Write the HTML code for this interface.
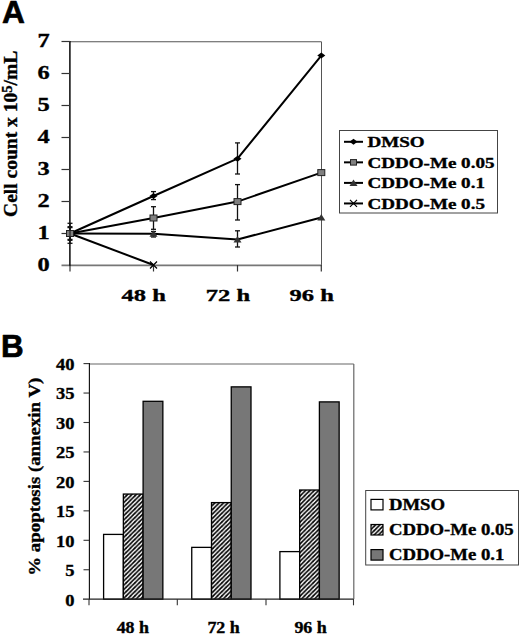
<!DOCTYPE html>
<html><head><meta charset="utf-8">
<style>
html,body{margin:0;padding:0;background:#fff;}
body{width:520px;height:636px;overflow:hidden;position:relative;}
svg{position:absolute;left:0;top:0;}
.s{font-family:"Liberation Serif",serif;font-weight:bold;fill:#000;stroke:#000;stroke-width:0.35px;}
.p{font-family:"Liberation Sans",sans-serif;font-weight:bold;fill:#000;stroke:#000;stroke-width:0.7px;stroke-linejoin:round;}
</style></head><body>
<svg width="520" height="636" viewBox="0 0 520 636">
<defs>
<pattern id="hatch" patternUnits="userSpaceOnUse" width="4.35" height="4.35">
<rect width="4.35" height="4.35" fill="#fff"/>
<path d="M-1,1.0875 L1.0875,-1 M0,4.35 L4.35,0 M3.2625,5.35 L5.35,3.2625" stroke="#000" stroke-width="1.6"/>
</pattern>
</defs>

<text class="p" font-size="31.7" text-anchor="start" transform="translate(1.90,23.40) scale(1.0,1)">A</text>
<line x1="70" y1="41.8" x2="321.5" y2="41.8" stroke="#555" stroke-width="1.1"/>
<line x1="321.5" y1="41.8" x2="321.5" y2="265.5" stroke="#555" stroke-width="1"/>
<line x1="61.5" y1="265.3" x2="321.5" y2="265.3" stroke="#777" stroke-width="1.8"/>
<line x1="69.9" y1="41" x2="69.9" y2="266" stroke="#000" stroke-width="1.45"/>
<g stroke="#333" stroke-width="1.2">
<line x1="61.5" y1="233.5" x2="70" y2="233.5"/>
<line x1="61.5" y1="201.5" x2="70" y2="201.5"/>
<line x1="61.5" y1="169.5" x2="70" y2="169.5"/>
<line x1="61.5" y1="137.5" x2="70" y2="137.5"/>
<line x1="61.5" y1="105.5" x2="70" y2="105.5"/>
<line x1="61.5" y1="73.5" x2="70" y2="73.5"/>
<line x1="61.5" y1="41.5" x2="70" y2="41.5"/>
<line x1="70" y1="265" x2="70" y2="271.5"/>
<line x1="153.5" y1="265" x2="153.5" y2="271.5"/>
<line x1="237.5" y1="265" x2="237.5" y2="271.5"/>
<line x1="321.3" y1="265" x2="321.3" y2="271.5"/>
</g>
<text class="s" font-size="19.2" text-anchor="end" transform="translate(49.80,271.30) scale(1.27,1)">0</text>
<text class="s" font-size="19.2" text-anchor="end" transform="translate(49.80,239.30) scale(1.27,1)">1</text>
<text class="s" font-size="19.2" text-anchor="end" transform="translate(49.80,207.30) scale(1.27,1)">2</text>
<text class="s" font-size="19.2" text-anchor="end" transform="translate(49.80,175.30) scale(1.27,1)">3</text>
<text class="s" font-size="19.2" text-anchor="end" transform="translate(49.80,143.30) scale(1.27,1)">4</text>
<text class="s" font-size="19.2" text-anchor="end" transform="translate(49.80,111.30) scale(1.27,1)">5</text>
<text class="s" font-size="19.2" text-anchor="end" transform="translate(49.80,79.30) scale(1.27,1)">6</text>
<text class="s" font-size="19.2" text-anchor="end" transform="translate(49.80,47.30) scale(1.27,1)">7</text>
<text class="s" font-size="17.4" text-anchor="middle" transform="translate(143.70,300.80) scale(1.41,1)">48 h</text>
<text class="s" font-size="17.4" text-anchor="middle" transform="translate(228.00,300.80) scale(1.41,1)">72 h</text>
<text class="s" font-size="17.4" text-anchor="middle" transform="translate(311.70,300.80) scale(1.41,1)">96 h</text>
<text class="s" font-size="18.5" transform="translate(17.1,216.9) rotate(-90) scale(1.055,1)">Cell count x 10<tspan font-size="14" dy="-4.7">5</tspan><tspan dy="4.7">/mL</tspan></text>
<g stroke="#111" stroke-width="1.3">
<line x1="70" y1="223.3" x2="70" y2="243.3"/><line x1="67.5" y1="223.3" x2="72.5" y2="223.3"/><line x1="67.5" y1="243.3" x2="72.5" y2="243.3"/>
<line x1="70" y1="226.7" x2="70" y2="240.3"/><line x1="67.5" y1="226.7" x2="72.5" y2="226.7"/><line x1="67.5" y1="240.3" x2="72.5" y2="240.3"/>
<line x1="70" y1="227.6" x2="70" y2="239.4"/><line x1="67.5" y1="227.6" x2="72.5" y2="227.6"/><line x1="67.5" y1="239.4" x2="72.5" y2="239.4"/>
<line x1="153.5" y1="191.6" x2="153.5" y2="199.6"/><line x1="151.0" y1="191.6" x2="156.0" y2="191.6"/><line x1="151.0" y1="199.6" x2="156.0" y2="199.6"/>
<line x1="153.5" y1="206.7" x2="153.5" y2="229.3"/><line x1="151.0" y1="206.7" x2="156.0" y2="206.7"/><line x1="151.0" y1="229.3" x2="156.0" y2="229.3"/>
<line x1="153.5" y1="231.5" x2="153.5" y2="237"/><line x1="151.0" y1="231.5" x2="156.0" y2="231.5"/><line x1="151.0" y1="237" x2="156.0" y2="237"/>
<line x1="237.5" y1="142.9" x2="237.5" y2="174"/><line x1="235.0" y1="142.9" x2="240.0" y2="142.9"/><line x1="235.0" y1="174" x2="240.0" y2="174"/>
<line x1="237.5" y1="184.6" x2="237.5" y2="220"/><line x1="235.0" y1="184.6" x2="240.0" y2="184.6"/><line x1="235.0" y1="220" x2="240.0" y2="220"/>
<line x1="237.5" y1="230.8" x2="237.5" y2="247"/><line x1="235.0" y1="230.8" x2="240.0" y2="230.8"/><line x1="235.0" y1="247" x2="240.0" y2="247"/>
</g>
<g fill="none" stroke="#000" stroke-width="2" stroke-linejoin="round">
<polyline points="70,233.5 153.5,196 237.5,158.7 321.3,55.6"/>
<polyline points="70,233.5 153.5,218 237.5,201.6 321.3,172.6"/>
<polyline points="70,233.5 153.5,233.8 237.5,239.5 321.3,217.5"/>
<polyline points="70,233.5 153.5,265"/>
</g>
<path d="M66,233.5 L70,230.5 L74,233.5 L70,236.5Z" fill="#000"/>
<path d="M149.5,196 L153.5,193 L157.5,196 L153.5,199Z" fill="#000"/>
<path d="M233.5,158.7 L237.5,155.7 L241.5,158.7 L237.5,161.7Z" fill="#000"/>
<path d="M317.3,55.6 L321.3,52.6 L325.3,55.6 L321.3,58.6Z" fill="#000"/>
<path d="M149.5,236.8 L153.5,230.3 L157.5,236.8Z" fill="#333"/>
<path d="M233.5,242.5 L237.5,236.0 L241.5,242.5Z" fill="#333"/>
<path d="M317.3,220.5 L321.3,214.0 L325.3,220.5Z" fill="#333"/>
<path d="M150.0,261.5 L157.0,268.5 M157.0,261.5 L150.0,268.5" stroke="#000" stroke-width="1.2" fill="none"/>
<rect x="66.5" y="230.5" width="7" height="6" fill="#808080" stroke="#222" stroke-width="1"/>
<rect x="150.0" y="215.0" width="7" height="6" fill="#808080" stroke="#222" stroke-width="1"/>
<rect x="234.0" y="198.6" width="7" height="6" fill="#808080" stroke="#222" stroke-width="1"/>
<rect x="317.8" y="169.6" width="7" height="6" fill="#808080" stroke="#222" stroke-width="1"/>
<line x1="70" y1="229" x2="70" y2="238" stroke="#222" stroke-width="1.2"/>
<rect x="339.5" y="130.5" width="158" height="82.5" fill="#fff" stroke="#444" stroke-width="1"/>
<g stroke="#000" stroke-width="2">
<line x1="344" y1="141.79999999999998" x2="363" y2="141.79999999999998"/>
<line x1="344" y1="162.35" x2="363" y2="162.35"/>
<line x1="344" y1="182.89999999999998" x2="363" y2="182.89999999999998"/>
<line x1="344" y1="203.45" x2="363" y2="203.45"/>
</g>
<path d="M349.5,141.79999999999998 L353.5,138.79999999999998 L357.5,141.79999999999998 L353.5,144.79999999999998Z" fill="#000"/>
<rect x="350.5" y="159.6" width="6" height="5.5" fill="#808080" stroke="#222" stroke-width="1"/>
<path d="M349.5,185.89999999999998 L353.5,179.39999999999998 L357.5,185.89999999999998Z" fill="#333"/>
<path d="M350.0,199.95 L357.0,206.95 M357.0,199.95 L350.0,206.95" stroke="#000" stroke-width="1.2" fill="none"/>
<text class="s" font-size="14.9" text-anchor="start" transform="translate(367.40,147.10) scale(1.28,1)">DMSO</text>
<text class="s" font-size="14.9" text-anchor="start" transform="translate(367.40,167.65) scale(1.28,1)">CDDO-Me 0.05</text>
<text class="s" font-size="14.9" text-anchor="start" transform="translate(367.40,188.20) scale(1.28,1)">CDDO-Me 0.1</text>
<text class="s" font-size="14.9" text-anchor="start" transform="translate(367.40,208.75) scale(1.28,1)">CDDO-Me 0.5</text>
<text class="p" font-size="31.3" text-anchor="start" transform="translate(0.90,356.80) scale(1.0,1)">B</text>
<line x1="89" y1="364" x2="353.8" y2="364" stroke="#666" stroke-width="1.2"/>
<line x1="353.8" y1="364" x2="353.8" y2="599" stroke="#666" stroke-width="1.2"/>
<line x1="89.4" y1="363" x2="89.4" y2="599.5" stroke="#111" stroke-width="1.15"/>
<g stroke="#000" stroke-width="1.3">
<rect x="103.60" y="534.41" width="19.75" height="64.79" fill="#fff"/>
<rect x="123.35" y="494.06" width="19.75" height="105.14" fill="url(#hatch)"/>
<rect x="143.10" y="401.30" width="19.75" height="197.90" fill="#777"/>
<rect x="191.75" y="547.37" width="19.75" height="51.83" fill="#fff"/>
<rect x="211.50" y="502.60" width="19.75" height="96.60" fill="url(#hatch)"/>
<rect x="231.25" y="386.87" width="19.75" height="212.33" fill="#777"/>
<rect x="279.90" y="551.61" width="19.75" height="47.59" fill="#fff"/>
<rect x="299.65" y="490.00" width="19.75" height="109.20" fill="url(#hatch)"/>
<rect x="319.40" y="401.89" width="19.75" height="197.31" fill="#777"/>
</g>
<line x1="83" y1="599.2" x2="353.5" y2="599.2" stroke="#222" stroke-width="1.2"/>
<g stroke="#333" stroke-width="1.1">
<line x1="83.5" y1="569.75" x2="89" y2="569.75"/>
<line x1="83.5" y1="540.30" x2="89" y2="540.30"/>
<line x1="83.5" y1="510.85" x2="89" y2="510.85"/>
<line x1="83.5" y1="481.40" x2="89" y2="481.40"/>
<line x1="83.5" y1="451.95" x2="89" y2="451.95"/>
<line x1="83.5" y1="422.50" x2="89" y2="422.50"/>
<line x1="83.5" y1="393.05" x2="89" y2="393.05"/>
<line x1="83.5" y1="363.60" x2="89" y2="363.60"/>
<line x1="89" y1="599" x2="89" y2="605.3"/>
<line x1="177.3" y1="599" x2="177.3" y2="605.3"/>
<line x1="266" y1="599" x2="266" y2="605.3"/>
<line x1="353.5" y1="599" x2="353.5" y2="605.3"/>
</g>
<text class="s" font-size="16.8" text-anchor="end" transform="translate(74.40,605.50) scale(1.1,1)">0</text>
<text class="s" font-size="16.8" text-anchor="end" transform="translate(74.40,576.05) scale(1.1,1)">5</text>
<text class="s" font-size="16.8" text-anchor="end" transform="translate(74.40,546.60) scale(1.1,1)">10</text>
<text class="s" font-size="16.8" text-anchor="end" transform="translate(74.40,517.15) scale(1.1,1)">15</text>
<text class="s" font-size="16.8" text-anchor="end" transform="translate(74.40,487.70) scale(1.1,1)">20</text>
<text class="s" font-size="16.8" text-anchor="end" transform="translate(74.40,458.25) scale(1.1,1)">25</text>
<text class="s" font-size="16.8" text-anchor="end" transform="translate(74.40,428.80) scale(1.1,1)">30</text>
<text class="s" font-size="16.8" text-anchor="end" transform="translate(74.40,399.35) scale(1.1,1)">35</text>
<text class="s" font-size="16.8" text-anchor="end" transform="translate(74.40,369.90) scale(1.1,1)">40</text>
<text class="s" font-size="16.3" text-anchor="middle" transform="translate(132.85,633.00) scale(1.1,1)">48 h</text>
<text class="s" font-size="16.3" text-anchor="middle" transform="translate(223.60,633.00) scale(1.1,1)">72 h</text>
<text class="s" font-size="16.3" text-anchor="middle" transform="translate(310.60,633.00) scale(1.1,1)">96 h</text>
<text class="s" font-size="16.3" transform="translate(40.3,575.7) rotate(-90) scale(1.156,1)">% apoptosis (annexin V)</text>
<rect x="365.7" y="490.5" width="152.8" height="74.5" fill="#fff" stroke="#444" stroke-width="1"/>
<g stroke="#000" stroke-width="1.2">
<rect x="371" y="499.4" width="12" height="10.5" fill="#fff"/>
<rect x="371" y="524.5" width="12" height="10.5" fill="url(#hatch)"/>
<rect x="371" y="549.6" width="12" height="10.5" fill="#777"/>
</g>
<text class="s" font-size="16.3" text-anchor="start" transform="translate(388.90,509.90) scale(1.15,1)">DMSO</text>
<text class="s" font-size="16.3" text-anchor="start" transform="translate(388.90,535.00) scale(1.15,1)">CDDO-Me 0.05</text>
<text class="s" font-size="16.3" text-anchor="start" transform="translate(388.90,560.10) scale(1.15,1)">CDDO-Me 0.1</text>
</svg>
</body></html>
